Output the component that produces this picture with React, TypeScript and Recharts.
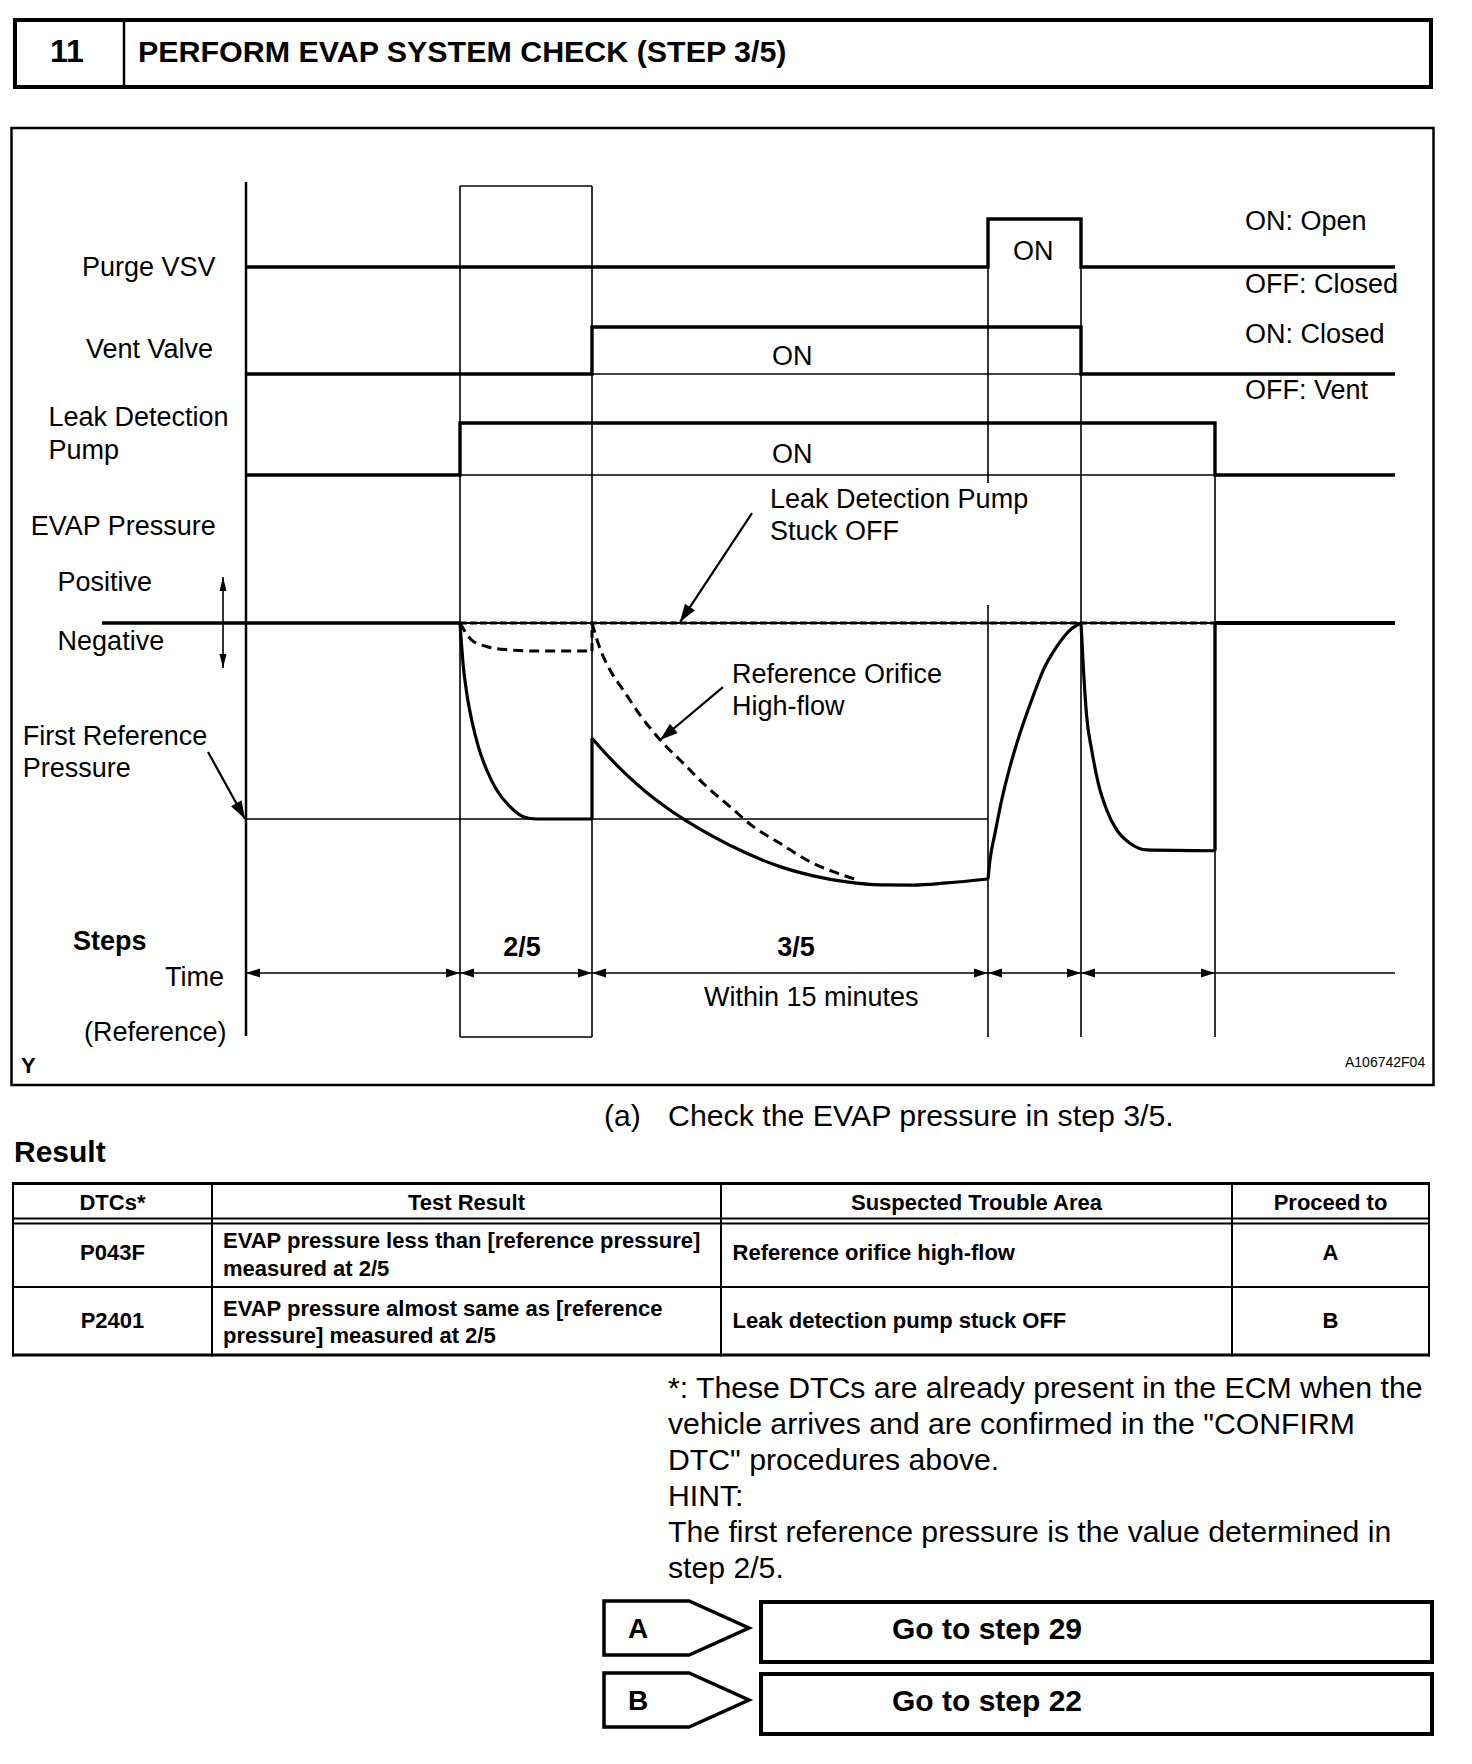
import React from 'react';
import { ComposedChart, Line, XAxis, YAxis, ReferenceLine } from 'recharts';

const FONT = "'Liberation Sans', Arial, Helvetica, sans-serif";

// ---------- time axis (arbitrary time units) ----------
const phaseBounds = [0, 21.4, 34.6, 74.2, 83.5, 96.9];
const timeEnd = 114.9;
const zeroLineStart = -14.4;

// ---------- switching signals: state changes (0 = OFF, 1 = ON) ----------
const purgeVSV = [
  { t: 0, s: 0 }, { t: 74.2, s: 1 }, { t: 83.5, s: 0 }, { t: 114.9, s: 0 },
];
const ventValve = [
  { t: 0, s: 0 }, { t: 34.6, s: 1 }, { t: 83.5, s: 0 }, { t: 114.9, s: 0 },
];
const leakPump = [
  { t: 0, s: 0 }, { t: 21.4, s: 1 }, { t: 96.9, s: 0 }, { t: 114.9, s: 0 },
];

// ---------- EVAP pressure (0 = atmosphere, -1 = first reference pressure) ----------
const normalStep2 = [
  { t: 21.4, p: 0 }, { t: 21.73, p: -0.22 }, { t: 22.07, p: -0.357 }, { t: 22.57, p: -0.495 },
  { t: 23.23, p: -0.631 }, { t: 24.07, p: -0.75 }, { t: 25.07, p: -0.852 }, { t: 26.4, p: -0.937 },
  { t: 27.73, p: -0.988 }, { t: 29.07, p: -1.0 }, { t: 34.6, p: -1.0 },
];
const normalStep2Jump = [{ t: 34.6, p: -1.0 }, { t: 34.6, p: -0.588 }];
const normalStep3 = [
  { t: 34.6, p: -0.588 }, { t: 36.07, p: -0.672 }, { t: 38.07, p: -0.775 }, { t: 40.0, p: -0.862 },
  { t: 42.0, p: -0.94 }, { t: 44.0, p: -1.008 }, { t: 46.73, p: -1.09 }, { t: 50.07, p: -1.175 },
  { t: 53.4, p: -1.243 }, { t: 56.73, p: -1.29 }, { t: 60.07, p: -1.321 }, { t: 63.4, p: -1.336 },
  { t: 66.73, p: -1.337 }, { t: 70.07, p: -1.326 }, { t: 74.2, p: -1.306 },
];
const normalRecover = [
  { t: 74.2, p: -1.306 }, { t: 74.4, p: -1.209 }, { t: 74.9, p: -1.073 }, { t: 75.57, p: -0.903 },
  { t: 76.4, p: -0.733 }, { t: 77.4, p: -0.563 }, { t: 78.57, p: -0.393 }, { t: 79.73, p: -0.24 },
  { t: 81.07, p: -0.121 }, { t: 82.4, p: -0.036 }, { t: 83.5, p: 0 },
];
const normalStep5 = [
  { t: 83.5, p: 0 }, { t: 83.73, p: -0.223 }, { t: 84.07, p: -0.478 }, { t: 84.57, p: -0.648 },
  { t: 85.23, p: -0.818 }, { t: 86.07, p: -0.954 }, { t: 87.07, p: -1.056 }, { t: 88.4, p: -1.124 },
  { t: 90.07, p: -1.158 }, { t: 96.9, p: -1.162 },
];
const normalStep5Return = [{ t: 96.9, p: -1.162 }, { t: 96.9, p: 0 }];
const orificeStep2 = [
  { t: 21.4, p: 0 }, { t: 22.57, p: -0.087 }, { t: 24.07, p: -0.12 }, { t: 26.07, p: -0.136 },
  { t: 29.4, p: -0.143 }, { t: 34.6, p: -0.143 },
];
const orificeStep2Return = [{ t: 34.6, p: -0.143 }, { t: 34.6, p: 0 }];
const orificeStep3 = [
  { t: 34.6, p: 0 }, { t: 35.4, p: -0.13 }, { t: 36.4, p: -0.24 }, { t: 37.73, p: -0.342 },
  { t: 39.4, p: -0.469 }, { t: 41.73, p: -0.614 }, { t: 43.73, p: -0.716 }, { t: 46.07, p: -0.835 },
  { t: 48.4, p: -0.937 }, { t: 50.73, p: -1.039 }, { t: 53.4, p: -1.124 }, { t: 56.07, p: -1.209 },
  { t: 58.73, p: -1.269 }, { t: 61.2, p: -1.311 },
];
const stuckOff = [{ t: 21.4, p: 0 }, { t: 96.9, p: 0 }];
const atmosLeft = [{ t: -14.4, p: 0 }, { t: 21.4, p: 0 }];
const atmosRight = [{ t: 96.9, p: 0 }, { t: 114.9, p: 0 }];

// ---------- table / notes ----------
const tableHeaders = ['DTCs*', 'Test Result', 'Suspected Trouble Area', 'Proceed to'];
const tableRows = [
  { dtc: 'P043F', result: ['EVAP pressure less than [reference pressure]', 'measured at 2/5'], area: 'Reference orifice high-flow', go: 'A' },
  { dtc: 'P2401', result: ['EVAP pressure almost same as [reference', 'pressure] measured at 2/5'], area: 'Leak detection pump stuck OFF', go: 'B' },
];
const notes = [
  '*: These DTCs are already present in the ECM when the',
  'vehicle arrives and are confirmed in the "CONFIRM',
  'DTC" procedures above.',
  'HINT:',
  'The first reference pressure is the value determined in',
  'step 2/5.',
];
const actions = [
  { code: 'A', text: 'Go to step 29' },
  { code: 'B', text: 'Go to step 22' },
];

// ---------- layout ----------
const CH = { left: 11, top: 127, width: 1423, height: 958 };
// value/pixel pairs -> axis domain for the chart box
function yDomain(v0: number, px0: number, v1: number, px1: number): [number, number] {
  const k = (v1 - v0) / (px0 - px1);
  return [v0 - (CH.top + CH.height - px0) * k, v0 + (px0 - CH.top) * k];
}
function xDomain(v0: number, px0: number, v1: number, px1: number): [number, number] {
  const k = (v1 - v0) / (px1 - px0);
  return [v0 - (px0 - CH.left) * k, v0 + (CH.left + CH.width - px0) * k];
}
const X_DOM = xDomain(0, 246, 10, 346);
const FRAME_DOM = yDomain(0, 1085, 10, 985);
const PURGE_DOM = yDomain(0, 267, 1, 219);
const VENT_DOM = yDomain(0, 374, 1, 327);
const PUMP_DOM = yDomain(0, 475, 1, 423);
const PRESS_DOM = yDomain(0, 623, -1, 819);

// frame units (10 px each, from the box bottom)
const timeMarks = [
  { t: 0, from: 4.9, to: 90.3 },
  { t: 21.4, from: 4.8, to: 89.9 },
  { t: 34.6, from: 4.8, to: 89.9 },
  { t: 74.2, from: 60.2, to: 86.6 },
  { t: 74.2, from: 4.8, to: 48.0 },
  { t: 83.5, from: 4.8, to: 86.6 },
  { t: 96.9, from: 4.8, to: 66.2 },
];
const TIME_ROW = 11.2;

function arrowShape(start: boolean, end: boolean, len: number, half: number, w: number) {
  return (props: any) => {
    const { x1, y1, x2, y2 } = props;
    const dx = x2 - x1, dy = y2 - y1;
    const L = Math.hypot(dx, dy) || 1;
    const ux = dx / L, uy = dy / L, nx = -uy, ny = ux;
    const head = (tx: number, ty: number, ex: number, ey: number) =>
      `${tx},${ty} ${tx - ex * len + nx * half},${ty - ey * len + ny * half} ${tx - ex * len - nx * half},${ty - ey * len - ny * half}`;
    return (
      <g>
        <line x1={x1} y1={y1} x2={x2} y2={y2} stroke="#000" strokeWidth={w} />
        {end && <polygon points={head(x2, y2, ux, uy)} fill="#000" />}
        {start && <polygon points={head(x1, y1, -ux, -uy)} fill="#000" />}
      </g>
    );
  };
}

const lineCommon = { dot: false, activeDot: false, isAnimationActive: false, stroke: '#000', legendType: 'none' as const };

function Diagram() {
  return (
    <ComposedChart width={CH.width} height={CH.height} margin={{ top: 0, right: 0, bottom: 0, left: 0 }}>
      <XAxis dataKey="t" type="number" domain={X_DOM} allowDataOverflow hide />
      <YAxis yAxisId="frame" type="number" domain={FRAME_DOM} allowDataOverflow hide />
      <YAxis yAxisId="purge" type="number" domain={PURGE_DOM} allowDataOverflow hide />
      <YAxis yAxisId="vent" type="number" domain={VENT_DOM} allowDataOverflow hide />
      <YAxis yAxisId="pump" type="number" domain={PUMP_DOM} allowDataOverflow hide />
      <YAxis yAxisId="press" type="number" domain={PRESS_DOM} allowDataOverflow hide />

      {timeMarks.map((m, i) => (
        <ReferenceLine key={'tm' + i} yAxisId="frame" ifOverflow="visible" stroke="#000" strokeWidth={m.t === 0 ? 2.5 : 1.6}
          segment={[{ x: m.t, y: m.from }, { x: m.t, y: m.to }]} />
      ))}
      <ReferenceLine yAxisId="frame" ifOverflow="visible" stroke="#000" strokeWidth={1.6}
        segment={[{ x: phaseBounds[1], y: 89.9 }, { x: phaseBounds[2], y: 89.9 }]} />
      <ReferenceLine yAxisId="frame" ifOverflow="visible" stroke="#000" strokeWidth={1.6}
        segment={[{ x: phaseBounds[1], y: 4.8 }, { x: phaseBounds[2], y: 4.8 }]} />

      {/* OFF baselines shown while signals are ON */}
      <ReferenceLine yAxisId="vent" ifOverflow="visible" stroke="#000" strokeWidth={1.4}
        segment={[{ x: 34.6, y: 0 }, { x: 83.5, y: 0 }]} />
      <ReferenceLine yAxisId="pump" ifOverflow="visible" stroke="#000" strokeWidth={1.4}
        segment={[{ x: 21.4, y: 0 }, { x: 96.9, y: 0 }]} />

      {/* pressure reference lines */}
      <ReferenceLine yAxisId="press" ifOverflow="visible" stroke="#000" strokeWidth={2.2}
        segment={[{ x: zeroLineStart, y: 0 }, { x: timeEnd, y: 0 }]} />
      <ReferenceLine yAxisId="press" ifOverflow="visible" stroke="#000" strokeWidth={1.6}
        segment={[{ x: 0, y: -1 }, { x: phaseBounds[3], y: -1 }]} />

      {/* time arrows */}
      {phaseBounds.slice(0, -1).map((b, i) => (
        <ReferenceLine key={'ta' + i} yAxisId="frame" ifOverflow="visible"
          segment={[{ x: b, y: TIME_ROW }, { x: phaseBounds[i + 1], y: TIME_ROW }]}
          shape={arrowShape(true, true, 14, 4.5, 1.4)} />
      ))}
      <ReferenceLine yAxisId="frame" ifOverflow="visible" stroke="#000" strokeWidth={1.4}
        segment={[{ x: phaseBounds[5], y: TIME_ROW }, { x: timeEnd, y: TIME_ROW }]} />

      {/* annotation arrows */}
      <ReferenceLine yAxisId="press" ifOverflow="visible" segment={[{ x: 50.6, y: 0.561 }, { x: 43.4, y: 0.005 }]}
        shape={arrowShape(false, true, 18, 6, 2.2)} />
      <ReferenceLine yAxisId="press" ifOverflow="visible" segment={[{ x: 47.7, y: -0.327 }, { x: 41.4, y: -0.597 }]}
        shape={arrowShape(false, true, 18, 6, 2.2)} />
      <ReferenceLine yAxisId="press" ifOverflow="visible" segment={[{ x: -3.8, y: -0.658 }, { x: -0.1, y: -1 }]}
        shape={arrowShape(false, true, 18, 6, 2.2)} />
      <ReferenceLine yAxisId="press" ifOverflow="visible" segment={[{ x: -2.3, y: 0.235 }, { x: -2.3, y: -0.23 }]}
        shape={arrowShape(true, true, 14, 3.5, 1.6)} />

      {/* switching signals */}
      <Line {...lineCommon} data={purgeVSV} dataKey="s" yAxisId="purge" type="stepAfter" strokeWidth={3.4} />
      <Line {...lineCommon} data={ventValve} dataKey="s" yAxisId="vent" type="stepAfter" strokeWidth={3.4} />
      <Line {...lineCommon} data={leakPump} dataKey="s" yAxisId="pump" type="stepAfter" strokeWidth={3.4} />

      {/* pressure */}
      <Line {...lineCommon} data={atmosLeft} dataKey="p" yAxisId="press" type="linear" strokeWidth={3.4} />
      <Line {...lineCommon} data={atmosRight} dataKey="p" yAxisId="press" type="linear" strokeWidth={3.8} />
      <Line {...lineCommon} data={stuckOff} dataKey="p" yAxisId="press" type="linear" strokeWidth={3.2} strokeDasharray="7 3" />
      <Line {...lineCommon} data={normalStep2} dataKey="p" yAxisId="press" type="monotone" strokeWidth={3.2} />
      <Line {...lineCommon} data={normalStep2Jump} dataKey="p" yAxisId="press" type="linear" strokeWidth={3.2} />
      <Line {...lineCommon} data={normalStep3} dataKey="p" yAxisId="press" type="monotone" strokeWidth={3.2} />
      <Line {...lineCommon} data={normalRecover} dataKey="p" yAxisId="press" type="monotone" strokeWidth={3.2} />
      <Line {...lineCommon} data={normalStep5} dataKey="p" yAxisId="press" type="monotone" strokeWidth={3.2} />
      <Line {...lineCommon} data={normalStep5Return} dataKey="p" yAxisId="press" type="linear" strokeWidth={3.4} />
      <Line {...lineCommon} data={orificeStep2} dataKey="p" yAxisId="press" type="monotone" strokeWidth={3} strokeDasharray="10 6" />
      <Line {...lineCommon} data={orificeStep2Return} dataKey="p" yAxisId="press" type="linear" strokeWidth={3} strokeDasharray="8 5" />
      <Line {...lineCommon} data={orificeStep3} dataKey="p" yAxisId="press" type="monotone" strokeWidth={3} strokeDasharray="10 6" />
    </ComposedChart>
  );
}

type Lbl = { x: number; y: number; t: string; b?: boolean; a?: 'start' | 'middle' | 'end'; s?: number };
const chartLabels: Lbl[] = [
  { x: 82, y: 276, t: 'Purge VSV' },
  { x: 86, y: 358, t: 'Vent Valve' },
  { x: 48.5, y: 425.5, t: 'Leak Detection' },
  { x: 48.5, y: 458.5, t: 'Pump' },
  { x: 30.7, y: 535, t: 'EVAP Pressure' },
  { x: 57.6, y: 591, t: 'Positive' },
  { x: 57.6, y: 649.5, t: 'Negative' },
  { x: 22.7, y: 745, t: 'First Reference' },
  { x: 22.7, y: 777, t: 'Pressure' },
  { x: 73, y: 950, t: 'Steps', b: true },
  { x: 522, y: 956, t: '2/5', b: true, a: 'middle' },
  { x: 796, y: 956, t: '3/5', b: true, a: 'middle' },
  { x: 165, y: 986, t: 'Time' },
  { x: 84, y: 1041, t: '(Reference)' },
  { x: 704, y: 1006, t: 'Within 15 minutes' },
  { x: 1013, y: 259.5, t: 'ON' },
  { x: 1245, y: 229.5, t: 'ON: Open' },
  { x: 1245, y: 293, t: 'OFF: Closed' },
  { x: 1245, y: 342.5, t: 'ON: Closed' },
  { x: 1245, y: 399, t: 'OFF: Vent' },
  { x: 772, y: 365, t: 'ON' },
  { x: 772, y: 462.5, t: 'ON' },
  { x: 770, y: 507.5, t: 'Leak Detection Pump' },
  { x: 770, y: 540, t: 'Stuck OFF' },
  { x: 732, y: 683, t: 'Reference Orifice' },
  { x: 732, y: 715, t: 'High-flow' },
];

const colX = [13, 212, 721, 1232, 1429];

function Overlay() {
  const T = (l: Lbl, key: string) => (
    <text key={key} x={l.x} y={l.y} fontSize={l.s ?? 27} fontWeight={l.b ? 'bold' : 'normal'} textAnchor={l.a ?? 'start'}>{l.t}</text>
  );
  const rowBase = [[1248, 1276, 1260], [1316, 1343, 1328]];
  return (
    <svg width={1472} height={1764} style={{ position: 'absolute', left: 0, top: 0, pointerEvents: 'none' }} fontFamily={FONT} fill="#000">
      {/* header */}
      <rect x={15} y={20} width={1416} height={67} fill="none" stroke="#000" strokeWidth={4} />
      <line x1={124} y1={20} x2={124} y2={87} stroke="#000" strokeWidth={2.5} />
      <text x={67} y={62} fontSize={32} fontWeight="bold" textAnchor="middle">11</text>
      <text x={138} y={62} fontSize={30.4} fontWeight="bold">PERFORM EVAP SYSTEM CHECK (STEP 3/5)</text>

      {/* diagram frame */}
      <rect x={11.5} y={128} width={1422} height={957} fill="none" stroke="#000" strokeWidth={2.5} />
      {chartLabels.map((l, i) => T(l, 'c' + i))}
      <text x={21} y={1073} fontSize={22} fontWeight="bold">Y</text>
      <text x={1345} y={1067} fontSize={14}>A106742F04</text>

      {/* caption */}
      <text x={604} y={1126} fontSize={30}>(a)</text>
      <text x={668} y={1126} fontSize={30.3}>Check the EVAP pressure in step 3/5.</text>
      <text x={14} y={1162} fontSize={30} fontWeight="bold">Result</text>

      {/* table */}
      <g stroke="#000" fill="none">
        <line x1={12} y1={1183.5} x2={1430} y2={1183.5} strokeWidth={3} />
        <line x1={12} y1={1218.5} x2={1430} y2={1218.5} strokeWidth={2.2} />
        <line x1={12} y1={1223.5} x2={1430} y2={1223.5} strokeWidth={2.2} />
        <line x1={12} y1={1287} x2={1430} y2={1287} strokeWidth={2} />
        <line x1={12} y1={1355} x2={1430} y2={1355} strokeWidth={3} />
        {colX.map((x, i) => <line key={'v' + i} x1={x} y1={1182} x2={x} y2={1356.5} strokeWidth={2} />)}
      </g>
      {tableHeaders.map((h, i) => (
        <text key={'h' + i} x={(colX[i] + colX[i + 1]) / 2} y={1210} fontSize={22} fontWeight="bold" textAnchor="middle">{h}</text>
      ))}
      {tableRows.map((r, i) => (
        <g key={'r' + i} fontSize={22} fontWeight="bold">
          <text x={(colX[0] + colX[1]) / 2} y={rowBase[i][2]} textAnchor="middle">{r.dtc}</text>
          <text x={223} y={rowBase[i][0]}>{r.result[0]}</text>
          <text x={223} y={rowBase[i][1]}>{r.result[1]}</text>
          <text x={732.6} y={rowBase[i][2]}>{r.area}</text>
          <text x={(colX[3] + colX[4]) / 2} y={rowBase[i][2]} textAnchor="middle">{r.go}</text>
        </g>
      ))}

      {/* notes */}
      {notes.map((n, i) => (
        <text key={'n' + i} x={668} y={1398 + i * 36} fontSize={30.2}>{n}</text>
      ))}

      {/* actions */}
      {actions.map((a, i) => {
        const y0 = 1601 + i * 72;
        return (
          <g key={'a' + i}>
            <polygon points={`604,${y0} 689,${y0} 749,${y0 + 27} 689,${y0 + 54} 604,${y0 + 54}`} fill="none" stroke="#000" strokeWidth={3.5} />
            <rect x={761} y={y0 + 1} width={671} height={60} fill="none" stroke="#000" strokeWidth={4} />
            <text x={628} y={y0 + 37} fontSize={28} fontWeight="bold">{a.code}</text>
            <text x={892} y={y0 + 38} fontSize={30} fontWeight="bold">{a.text}</text>
          </g>
        );
      })}
    </svg>
  );
}

export default function App() {
  return (
    <div style={{ position: 'absolute', left: 0, top: 0, width: 1472, height: 1764, background: '#fff', fontFamily: FONT }}>
      <div style={{ position: 'absolute', left: CH.left, top: CH.top, width: CH.width, height: CH.height }}>
        <Diagram />
      </div>
      <Overlay />
    </div>
  );
}
